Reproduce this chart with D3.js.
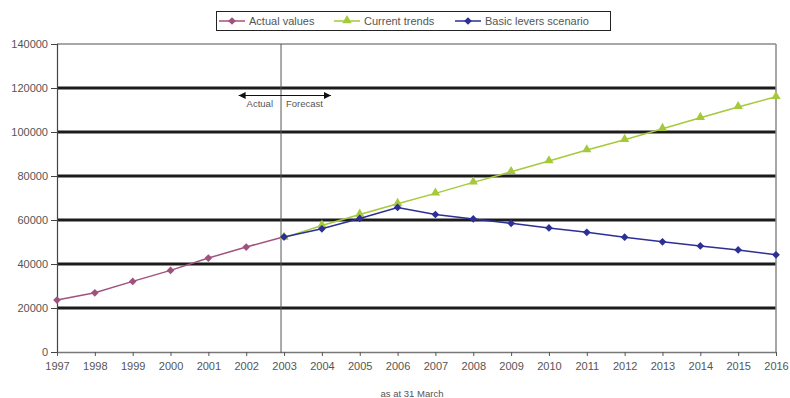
<!DOCTYPE html>
<html>
<head>
<meta charset="utf-8">
<script src="https://cdn.jsdelivr.net/npm/d3@7"></script>
<style>
  html, body { margin: 0; padding: 0; background: #fff; }
  svg { display: block; font-family: "Liberation Sans", Arial, sans-serif; }
</style>
</head>
<body>
<svg id="chart" width="790" height="398"></svg>
<script>
// Years on the x axis
const years = d3.range(1997, 2017);
const yTicks = [0, 20000, 40000, 60000, 80000, 100000, 120000, 140000];

// Recorded figures up to 2003
const actualYears = [1997, 1998, 1999, 2000, 2001, 2002, 2003];
const actualValues = [23600, 26900, 32100, 37100, 42700, 47700, 52400];

// Projection if current trends continue
const trendYears = [2003, 2004, 2005, 2006, 2007, 2008, 2009, 2010, 2011, 2012, 2013, 2014, 2015, 2016];
const trendValues = [52000, 57500, 62500, 67400, 72100, 77100, 81900, 86800, 91800, 96500, 101500, 106500, 111400, 116000];

// Projection under the basic levers scenario
const leverYears = [2003, 2004, 2005, 2006, 2007, 2008, 2009, 2010, 2011, 2012, 2013, 2014, 2015, 2016];
const leverValues = [52300, 56000, 60700, 65700, 62500, 60500, 58500, 56400, 54400, 52200, 50100, 48200, 46400, 44200];

const seriesNames = ["Actual values", "Current trends", "Basic levers scenario"];
const seriesColors = ["#a0527f", "#a6c93a", "#2c2f95"];
const seriesShapes = ["diamond", "triangle", "diamond"];

const splitYear = 2002.92;
const xTitle = "as at 31 March";

const svg = d3.select("#chart");
const plotLeft = 57, plotRight = 776, plotTop = 44, plotBottom = 352;

const x = d3.scaleLinear().domain([1997, 2016]).range([plotLeft, plotRight]);
const y = d3.scaleLinear().domain([0, 140000]).range([plotBottom, plotTop]);

const textColor = "#555";

// Marker shapes: a square turned 45 degrees, or an upward triangle
const diamondPath = d3.symbol().type(d3.symbolSquare).size(30)();
const trianglePath = d3.symbol().type(d3.symbolTriangle).size(38)();
function drawMarker(sel, shape) {
  if (shape === "diamond") {
    sel.append("path").attr("d", diamondPath).attr("transform", "rotate(45)");
  } else {
    sel.append("path").attr("d", trianglePath).attr("transform", "translate(0,-0.5)");
  }
}

// Horizontal gridlines
svg.append("g").selectAll("line")
  .data(yTicks.filter(v => v > 0 && v < 140000))
  .join("line")
  .attr("x1", plotLeft).attr("x2", plotRight)
  .attr("y1", d => y(d)).attr("y2", d => y(d))
  .attr("stroke", "#1c1c1c").attr("stroke-width", 3);

// Plot frame: top and right edges
svg.append("line").attr("x1", plotLeft).attr("x2", plotRight).attr("y1", y(140000)).attr("y2", y(140000))
  .attr("stroke", "#8a8a8a").attr("stroke-width", 1.5);
svg.append("line").attr("x1", plotRight).attr("x2", plotRight).attr("y1", plotTop).attr("y2", plotBottom)
  .attr("stroke", "#8a8a8a").attr("stroke-width", 1.5);

// Y axis
const yAxis = svg.append("g")
  .attr("transform", `translate(${plotLeft},0)`)
  .call(d3.axisLeft(y).tickValues(yTicks).tickFormat(d3.format("d")).tickSize(6).tickPadding(3));
yAxis.select(".domain").attr("stroke", "#444").attr("stroke-width", 1.2);
yAxis.selectAll(".tick line").attr("stroke", "#444");
yAxis.selectAll("text").attr("fill", textColor).attr("font-size", 11).attr("font-family", "Liberation Sans, Arial, sans-serif");

// X axis
const xAxis = svg.append("g")
  .attr("transform", `translate(0,${plotBottom})`)
  .call(d3.axisBottom(x).tickValues(years).tickFormat(d3.format("d")).tickSize(4).tickPadding(6).tickSizeOuter(0));
xAxis.select(".domain").attr("stroke", "#777").attr("stroke-width", 1.5);
xAxis.selectAll(".tick line").attr("stroke", "#555");
xAxis.selectAll("text").attr("fill", textColor).attr("font-size", 11).attr("font-family", "Liberation Sans, Arial, sans-serif");

// Divider between recorded and projected years
svg.append("line")
  .attr("x1", x(splitYear)).attr("x2", x(splitYear))
  .attr("y1", plotTop).attr("y2", plotBottom + 1)
  .attr("stroke", "#555").attr("stroke-width", 1);

// Actual / Forecast arrow
const arrowY = 95.5;
const defs = svg.append("defs");
defs.append("marker").attr("id", "ah")
  .attr("viewBox", "0 0 10 10").attr("refX", 10).attr("refY", 5)
  .attr("markerWidth", 10).attr("markerHeight", 7).attr("markerUnits", "userSpaceOnUse")
  .attr("orient", "auto-start-reverse")
  .append("path").attr("d", "M0,0 L10,5 L0,10 Z").attr("fill", "#111");
svg.append("line")
  .attr("x1", x(2001.8)).attr("x2", x(2004.24))
  .attr("y1", arrowY).attr("y2", arrowY)
  .attr("stroke", "#111").attr("stroke-width", 1)
  .attr("marker-start", "url(#ah)").attr("marker-end", "url(#ah)");
svg.append("text").attr("x", x(splitYear) - 8).attr("y", 107)
  .attr("text-anchor", "end").attr("font-size", 9.5).attr("fill", textColor).text("Actual");
svg.append("text").attr("x", x(splitYear) + 5).attr("y", 107)
  .attr("text-anchor", "start").attr("font-size", 9.5).attr("fill", textColor).text("Forecast");

// Series lines and markers
const series = [
  { years: actualYears, values: actualValues },
  { years: trendYears, values: trendValues },
  { years: leverYears, values: leverValues }
];
const line = d3.line().x(d => x(d[0])).y(d => y(d[1]));
[0, 1, 2].forEach(i => {
  const s = series[i];
  const pts = s.years.map((yr, k) => [yr, s.values[k]]);
  svg.append("path").datum(pts).attr("d", line)
    .attr("fill", "none").attr("stroke", seriesColors[i]).attr("stroke-width", 1.5);
  svg.append("g").attr("fill", seriesColors[i]).selectAll("g").data(pts).join("g")
    .attr("transform", d => `translate(${x(d[0])},${y(d[1])})`)
    .each(function () { drawMarker(d3.select(this), seriesShapes[i]); });
});

// Legend
const legend = svg.append("g");
legend.append("rect").attr("x", 216.5).attr("y", 11.5).attr("width", 394).attr("height", 19)
  .attr("fill", "#fff").attr("stroke", "#222").attr("stroke-width", 1);
const legendX = [219, 334, 455];
seriesNames.forEach((name, i) => {
  const g = legend.append("g").attr("transform", `translate(${legendX[i]},21)`);
  g.append("line").attr("x1", 0).attr("x2", 26).attr("y1", 0).attr("y2", 0)
    .attr("stroke", seriesColors[i]).attr("stroke-width", 1.5);
  const m = g.append("g").attr("transform", "translate(13,0)").attr("fill", seriesColors[i]);
  drawMarker(m, seriesShapes[i]);
  g.append("text").attr("x", 30).attr("y", 4).attr("font-size", 11).attr("fill", textColor).text(name);
});

// Axis caption
svg.append("text").attr("x", 412).attr("y", 397).attr("text-anchor", "middle")
  .attr("font-size", 9.5).attr("fill", textColor).text(xTitle);
</script>
</body>
</html>
